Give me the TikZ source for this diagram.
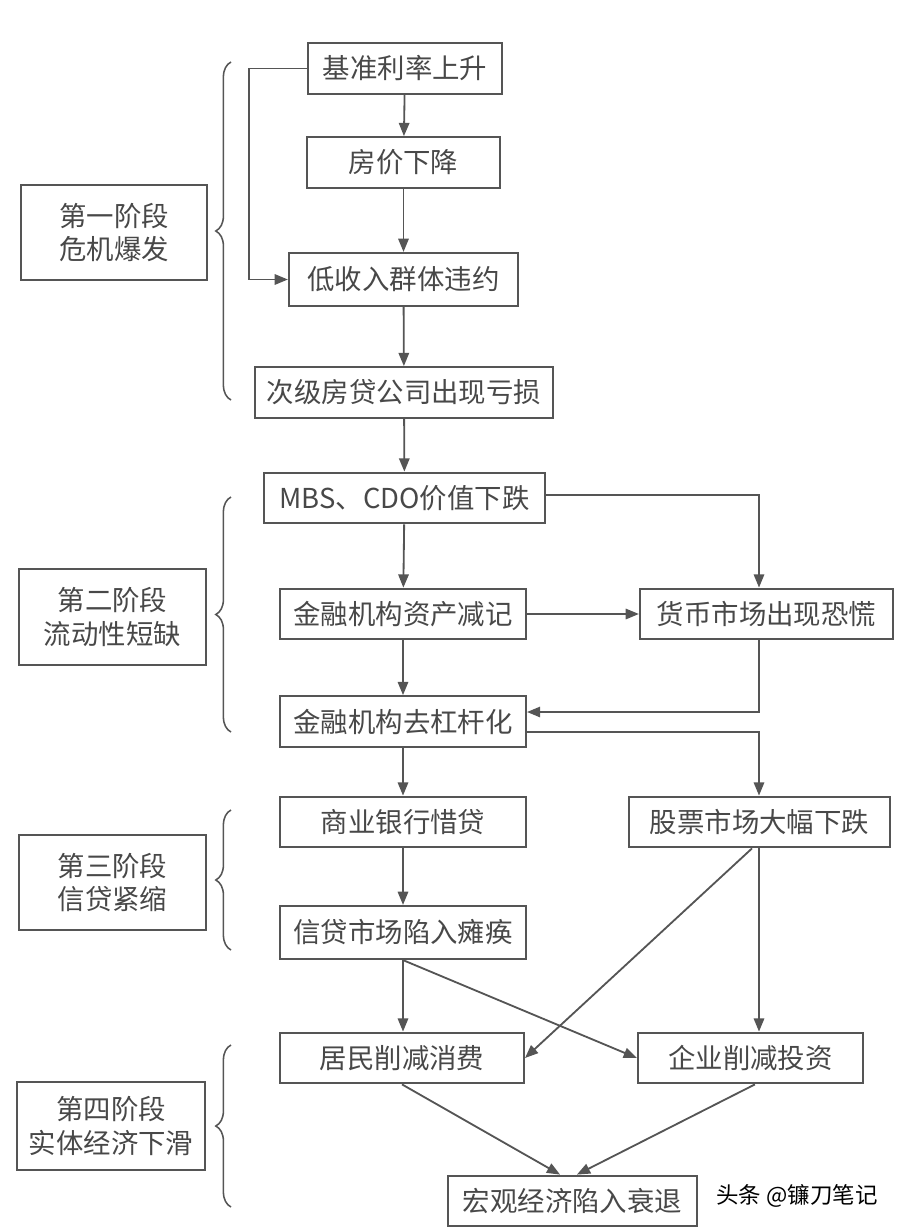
\documentclass[tikz,border=0pt]{standalone}
\usepackage{fontspec}
\newfontfamily\cjk{Noto Sans CJK SC}
\usepackage{tikz}
\usetikzlibrary{arrows.meta,positioning,decorations.pathreplacing}
\definecolor{lineg}{HTML}{555555}
\definecolor{textg}{HTML}{484848}

\begin{document}
\begin{tikzpicture}[x=0.025cm, y=-0.025cm,
  font=\cjk\fontsize{19.5}{23.5}\selectfont,
  box/.style={rectangle, draw=lineg, line width=1.4pt, text=textg, minimum height=1.27cm, inner sep=2pt},
  stage/.style={box, align=center, minimum width=4.65cm, minimum height=2.38cm},
  arr/.style={-{Triangle[length=3.3mm,width=2.6mm]}, line width=1.3pt, draw=lineg},
  brc/.style={decorate, decoration={brace, amplitude=0.38cm}, draw=lineg, line width=1.1pt}]
\useasboundingbox (0,0) rectangle (900,1229);
% main chain
\node[box, minimum width=4.85cm] (rate) at (405,68.5) {基准利率上升};
\node[box, minimum width=4.83cm] (price) at (403.5,162.5) {房价下降};
\node[box, minimum width=5.73cm, minimum height=1.33cm] (dflt) at (403.5,279.5) {低收入群体违约};
\node[box, minimum width=7.45cm] (loss) at (404,392.5) {次级房贷公司出现亏损};
\node[box, minimum width=7.03cm] (mbs) at (404.5,498) {MBS、CDO价值下跌};
\node[box, minimum width=6.15cm] (wdown) at (403,614) {金融机构资产减记};
\node[box, minimum width=6.33cm] (panic) at (766.5,614) {货币市场出现恐慌};
\node[box, minimum width=6.15cm] (delev) at (403,721.5) {金融机构去杠杆化};
\node[box, minimum width=6.15cm] (bank) at (403,822) {商业银行惜贷};
\node[box, minimum width=6.53cm] (stock) at (759.5,822) {股票市场大幅下跌};
\node[box, minimum width=6.15cm, minimum height=1.33cm] (credit) at (403,932.5) {信贷市场陷入瘫痪};
\node[box, minimum width=6.1cm] (cons) at (402,1058) {居民削减消费};
\node[box, minimum width=5.63cm] (inv) at (750.5,1058) {企业削减投资};
\node[box, minimum width=6.23cm] (rec) at (572.5,1201) {宏观经济陷入衰退};
% stages
\node[stage] (s1) at (114,232.5) {第一阶段\\危机爆发};
\node[stage] (s2) at (112.5,617) {第二阶段\\流动性短缺};
\node[stage] (s3) at (112.5,882.5) {第三阶段\\信贷紧缩};
\node[stage, minimum width=4.7cm, minimum height=2.2cm] (s4) at (111,1126) {第四阶段\\实体经济下滑};
\draw[brc] (231,400) -- (231,62);
\draw[brc] (231,732) -- (231,497);
\draw[brc] (231,950) -- (231,810);
\draw[brc] (231,1207) -- (231,1045);
% turning points
\coordinate (fb) at (249,68.5);
\coordinate (mr) at (759,495);
\coordinate (pl) at (759,712);
\coordinate (dr) at (759,732);
\coordinate (sl) at (752,847);
% arrows
\draw[arr] (rate) -- (price);
\draw[arr] (price) -- (dflt);
\draw[arr] (rate.west) -- (fb) |- (dflt.west);
\draw[arr] (dflt) -- (loss);
\draw[arr] (loss) -- (mbs);
\draw[arr] (mbs) -- (wdown);
\draw[arr] (mbs.east |- mr) -- (mr) -- (mr |- panic.north);
\draw[arr] (wdown) -- (panic);
\draw[arr] (wdown) -- (delev);
\draw[arr] (pl |- panic.south) -- (pl) -- (pl -| delev.east);
\draw[arr] (dr -| delev.east) -- (dr) -- (dr |- stock.north);
\draw[arr] (delev) -- (bank);
\draw[arr] (bank) -- (credit);
\draw[arr] (credit.south) -- (credit.south |- cons.north);
\draw[arr] (credit.south) -- (inv.west);
\draw[arr] (sl |- stock.south) -- (cons.east);
\draw[arr] (pl |- stock.south) -- (pl |- inv.north);
\draw[arr] (cons.south) -- ([xshift=-0.31cm]rec.north);
\draw[arr] ([xshift=0.11cm]inv.south) -- ([xshift=0.11cm]rec.north);
\node[font=\cjk\fontsize{16}{18}\selectfont, text=black] (wm) at (797,1196) {头条 @镰刀笔记};
\end{tikzpicture}
\end{document}
